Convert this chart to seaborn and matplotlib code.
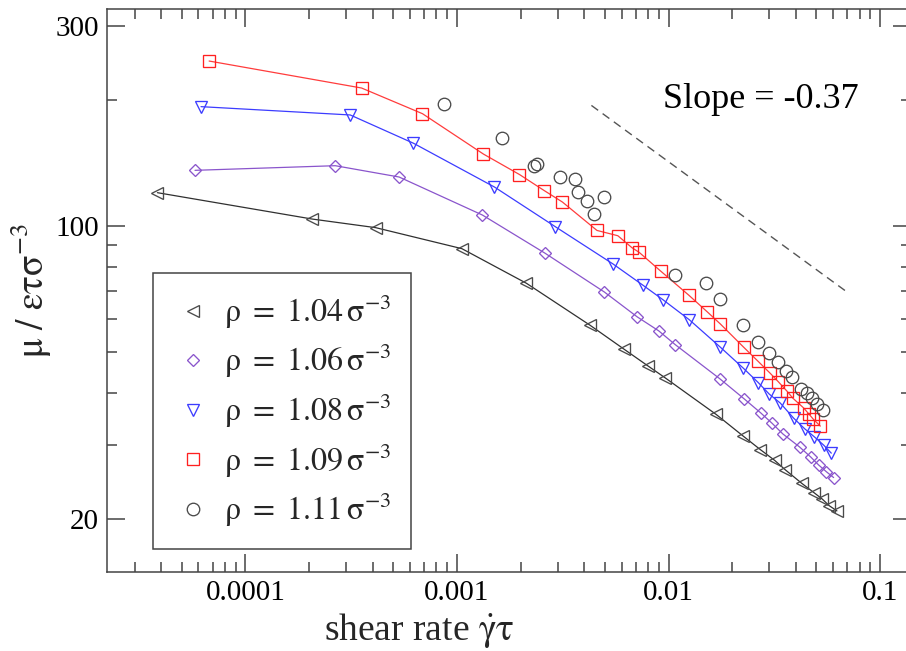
import numpy as np
import pandas as pd
import matplotlib
matplotlib.use("Agg")
import matplotlib.pyplot as plt
import seaborn as sns
from matplotlib.lines import Line2D
from matplotlib.ticker import FixedLocator, FixedFormatter, NullFormatter

# ---------------- data ----------------
rho104_x = [3.84e-5, 2.07e-4, 4.13e-4, 1.055e-3, 2.13e-3, 4.25e-3, 6.17e-3, 8.02e-3, 9.65e-3,
            0.0168, 0.0224, 0.0272, 0.0317, 0.0356, 0.0427, 0.0487, 0.0533, 0.0575, 0.0625]
rho104_y = [120.1, 103.9, 99.1, 88.3, 73.0, 58.0, 50.8, 46.3, 43.4,
            35.5, 31.6, 29.25, 27.6, 26.2, 24.3, 23.1, 22.3, 21.5, 20.9]

rho106_x = [5.78e-5, 2.66e-4, 5.33e-4, 1.32e-3, 2.61e-3, 4.97e-3, 7.11e-3, 8.99e-3, 0.01076,
            0.01747, 0.02275, 0.02729, 0.0309, 0.0347, 0.0416, 0.0470, 0.0512, 0.0558, 0.0603]
rho106_y = [135.8, 139.3, 130.9, 106.2, 86.1, 69.6, 60.7, 56.2, 52.1,
            43.2, 38.7, 35.8, 33.8, 31.9, 29.7, 28.1, 26.9, 25.9, 25.1]

rho108_x = [6.17e-5, 3.13e-4, 6.23e-4, 1.504e-3, 2.91e-3, 5.48e-3, 7.55e-3, 9.41e-3, 0.01256,
            0.01756, 0.02255, 0.02655, 0.02993, 0.03374, 0.0390, 0.04406, 0.04886, 0.0541, 0.0588]
rho108_y = [192.7, 184.1, 157.6, 123.9, 99.7, 81.1, 72.3, 66.7, 59.7,
            51.4, 45.8, 42.3, 39.7, 37.8, 34.8, 32.8, 31.4, 30.0, 28.7]

rho109_x = [6.74e-5, 3.54e-4, 6.87e-4, 1.334e-3, 1.975e-3, 2.585e-3, 3.15e-3, 4.59e-3, 5.76e-3,
            6.71e-3, 7.27e-3, 9.17e-3, 0.01246, 0.01524, 0.01756, 0.02263, 0.02655, 0.03026,
            0.03302, 0.03622, 0.03874, 0.04349, 0.04626, 0.04832, 0.05217]
rho109_y = [247.6, 213.5, 185.4, 148.5, 132.7, 121.5, 114.1, 97.6, 94.8,
            88.8, 86.5, 78.1, 68.4, 62.4, 58.4, 51.4, 47.5, 44.5,
            42.5, 40.4, 38.8, 36.8, 35.5, 34.6, 33.3]

rho111_x = [8.64e-4, 1.631e-3, 2.305e-3, 2.402e-3, 3.076e-3, 3.622e-3, 3.72e-3, 4.14e-3, 4.94e-3,
            4.45e-3, 0.01076, 0.01502, 0.01748, 0.02255, 0.02655, 0.02993, 0.03284, 0.03602,
            0.03845, 0.0424, 0.04527, 0.04779, 0.0503, 0.05388]
rho111_y = [195.0, 162.4, 139.2, 140.9, 130.9, 129.5, 120.3, 114.8, 117.1,
            106.9, 76.6, 73.0, 66.9, 58.2, 52.9, 49.7, 47.4, 45.1,
            43.5, 40.8, 39.96, 38.9, 37.7, 36.3]

slope_x = [0.00432, 0.0700]
slope_y = [194.0, 69.5]

legend_labels = [r"$\rho\ =\ 1.04\,\sigma^{-3}$", r"$\rho\ =\ 1.06\,\sigma^{-3}$",
                 r"$\rho\ =\ 1.08\,\sigma^{-3}$", r"$\rho\ =\ 1.09\,\sigma^{-3}$",
                 r"$\rho\ =\ 1.11\,\sigma^{-3}$"]
xtick_vals = [1e-4, 1e-3, 1e-2, 1e-1]
xtick_labels = ["0.0001", "0.001", "0.01", "0.1"]
ytick_vals = [20, 100, 300]
ytick_labels = ["20", "100", "300"]
yminor_vals = [30, 40, 50, 60, 70, 80, 90, 200]

# ---------------- style ----------------
sns.set_theme(style="ticks")
plt.rcParams['font.family'] = ['Liberation Serif', 'DejaVu Serif']
plt.rcParams['mathtext.fontset'] = 'stix'
plt.rcParams['mathtext.default'] = 'rm'

fig = plt.figure(figsize=(9.06, 6.51), dpi=100)
ax = fig.add_axes([0.1181, 0.1218, 0.887, 0.8644])
ax.set_xscale('log')
ax.set_yscale('log')

series = [
    (rho104_x, rho104_y, '<', '#4a4a4a', '#303030', 8.5),
    (rho106_x, rho106_y, 'D', '#8a55cc', '#8a55cc', 6.6),
    (rho108_x, rho108_y, 'v', '#3c3cff', '#3c3cff', 9.0),
    (rho109_x, rho109_y, 's', '#ff2020', '#ff3c3c', 8.0),
]
handles = []
for xs, ys, mk, mc, lc, ms in series:
    df = pd.DataFrame({'x': xs, 'y': ys})
    sns.lineplot(data=df, x='x', y='y', ax=ax, estimator=None, sort=False,
                 color=lc, linewidth=0.9, legend=False)
    ln = ax.lines[-1]
    ln.set_marker(mk)
    ln.set_markersize(ms)
    ln.set_markerfacecolor('none')
    ln.set_markeredgecolor(mc)
    ln.set_markeredgewidth(0.95)
    handles.append(Line2D([], [], ls='none', marker=mk, ms=ms, mfc='none', mec=mc, mew=0.95))

df = pd.DataFrame({'x': rho111_x, 'y': rho111_y})
sns.lineplot(data=df, x='x', y='y', ax=ax, estimator=None, sort=False,
             color='#4a4a4a', linewidth=0, legend=False)
ln = ax.lines[-1]
ln.set_linestyle('none')
ln.set_marker('o')
ln.set_markersize(9.0)
ln.set_markerfacecolor('none')
ln.set_markeredgecolor('#4a4a4a')
ln.set_markeredgewidth(0.95)
handles.append(Line2D([], [], ls='none', marker='o', ms=9.0, mfc='none', mec='#4a4a4a', mew=0.95))

# slope guide
ax.plot(slope_x, slope_y, color='#555555', lw=1.0, dashes=(6, 4))
ax.text(0.692, 0.824, "Slope = -0.37", transform=ax.transAxes, fontsize=26,
        ha='left', va='baseline', color='black')

# axes limits / ticks
ax.set_xlim(2.218e-5, 0.1394)
ax.set_ylim(14.96, 329.6)
ax.xaxis.set_major_locator(FixedLocator(xtick_vals))
ax.xaxis.set_major_formatter(FixedFormatter(xtick_labels))
ax.xaxis.set_minor_locator(matplotlib.ticker.LogLocator(base=10, subs=np.arange(2, 10), numticks=20))
ax.xaxis.set_minor_formatter(NullFormatter())
ax.yaxis.set_major_locator(FixedLocator(ytick_vals))
ax.yaxis.set_major_formatter(FixedFormatter(ytick_labels))
ax.yaxis.set_minor_locator(FixedLocator(yminor_vals))
ax.yaxis.set_minor_formatter(NullFormatter())

ax.tick_params(which='both', direction='in', top=True, right=True, colors='#444444',
               labelcolor='black', labelsize=21, width=1.1)
ax.tick_params(which='major', length=13, pad=6)
ax.tick_params(which='minor', length=7)
for sp in ax.spines.values():
    sp.set_color('#444444')
    sp.set_linewidth(1.1)
    sp.set_visible(True)

ax.set_xlabel(r"shear rate $\dot{\gamma}\tau$", fontsize=27)
ax.xaxis.set_label_coords(0.389, -0.1214)
ax.xaxis.label.set_va('baseline')
ax.set_ylabel(r"$\mu\ /\ \varepsilon\tau\sigma^{-3}$", fontsize=27)
ax.yaxis.set_label_coords(-0.0946, 0.5)
ax.yaxis.label.set_va('center')

leg = ax.legend(handles, legend_labels, loc='upper left', bbox_to_anchor=(0.0569, 0.5314),
                borderaxespad=0, frameon=True, fancybox=False, edgecolor='#444444',
                framealpha=1, fontsize=23, handlelength=1.3, handletextpad=0.3,
                labelspacing=0.35, borderpad=0.62)
leg.get_frame().set_linewidth(1.1)

fig.savefig("out.png", dpi=100)
